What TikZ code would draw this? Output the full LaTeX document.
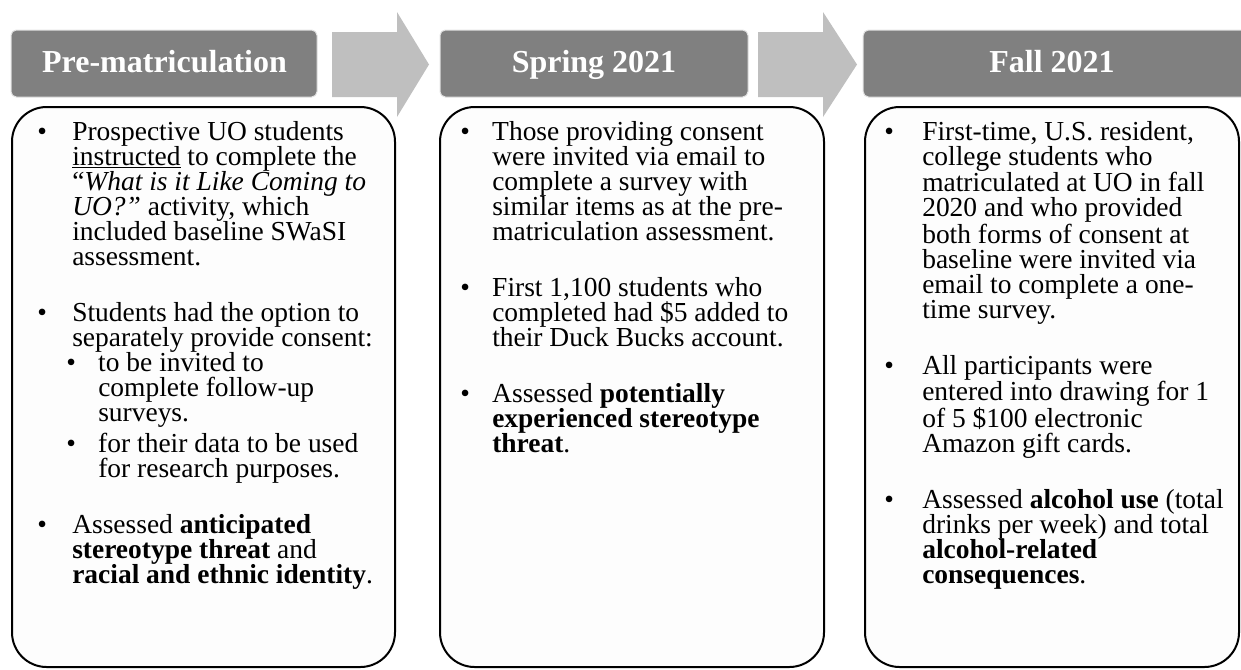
\documentclass[tikz,border=0pt]{standalone}
\usepackage{fontspec}
\setmainfont{Liberation Serif}
\definecolor{hdrgray}{HTML}{808080}
\definecolor{hdrline}{HTML}{E2E2E2}
\definecolor{arrgray}{HTML}{BFBFBF}
\definecolor{bodyfill}{HTML}{FDFDFD}
\newcommand{\bp}[2]{\par\noindent\hangindent=#1\hangafter=1\makebox[#1][l]{\textbullet}#2\par}
\newcommand{\sbp}[3]{\par\noindent\hangindent=\dimexpr#1+#2\relax\hangafter=1\hspace*{#1}\makebox[#2][l]{\textbullet}#3\par}
\newcommand{\pgap}{\vspace{23.25pt}}
\tikzset{
  hdr/.style={fill=hdrgray, draw=hdrline, line width=0.75pt, rounded corners=4pt,
    inner sep=0pt, minimum height=50.25pt},
  hdrtext/.style={text=white, font=\fontsize{24}{28}\selectfont\bfseries, inner sep=0pt, anchor=base},
  arr/.style={fill=arrgray, draw=none},
  body/.style={fill=bodyfill, draw=black, line width=1.5pt, rounded corners=26pt},
  bodytext/.style={inner sep=0pt, anchor=base west, font=\fontsize{20.6}{18.75}\selectfont}
}
\begin{document}
\begin{tikzpicture}[x=0.75pt, y=-0.75pt]
\useasboundingbox (0,0) rectangle (1241,669);
\clip (0,0) rectangle (1241,669);

% arrows
\fill[arr] (332,32) -- (397,32) -- (397,12) -- (429,64.5) -- (397,117) -- (397,97) -- (332,97) -- cycle;
\fill[arr] (758,32) -- (823,32) -- (823,12) -- (857,64.5) -- (823,117) -- (823,97) -- (758,97) -- cycle;

% headers
\node[hdr, minimum width=229.5pt] (h1) at (164,63.5) {};
\node[hdr, minimum width=231pt] (h2) at (594,63.5) {};
\node[hdr, minimum width=290pt] (h3) at (1056.5,63.5) {};
\node[hdrtext] (h1t) at (164.5,72) {Pre-matriculation};
\node[hdrtext] (h2t) at (594,72) {Spring 2021};
\node[hdrtext] (h3t) at (1052,72) {Fall 2021};

% body boxes
\draw[body] (12,107) rectangle (395,667);
\draw[body] (440,107) rectangle (824,667);
\draw[body] (865,107) rectangle (1239,667);

% box 1 text
\node[bodytext] (t1) at (37,140) {\begin{minipage}[t]{300pt}\setlength{\parskip}{0pt}%
\bp{26.25pt}{Prospective UO students\\ \underline{instructed} to complete the\\ “\textit{What is it Like Coming to\\ UO?”} activity, which\\ included baseline SWaSI\\ assessment.}
\pgap
\bp{26.25pt}{Students had the option to\\ separately provide consent:}
\sbp{21.75pt}{24pt}{to be invited to\\ complete follow-up\\ surveys.}
\vspace{3.75pt}
\sbp{21.75pt}{24pt}{for their data to be used\\ for research purposes.}
\pgap
\bp{26.25pt}{Assessed \textbf{anticipated\\ stereotype threat} and\\ \textbf{racial and ethnic identity}.}
\end{minipage}};

% box 2 text
\node[bodytext] (t2) at (460,140) {\begin{minipage}[t]{300pt}\setlength{\parskip}{0pt}%
\bp{24pt}{Those providing consent\\ were invited via email to\\ complete a survey with\\ similar items as at the pre-\\ matriculation assessment.}
\pgap
\bp{24pt}{First 1,100 students who\\ completed had \$5 added to\\ their Duck Bucks account.}
\pgap
\bp{24pt}{Assessed \textbf{potentially\\ experienced stereotype\\ threat}.}
\end{minipage}};

% box 3 text
\node[bodytext] (t3) at (884,140) {\begin{minipage}[t]{300pt}\setlength{\parskip}{0pt}%
\bp{28.5pt}{First-time, U.S. resident,\\ college students who\\ matriculated at UO in fall\\ 2020 and who provided\\ both forms of consent at\\ baseline were invited via\\ email to complete a one-\\ time survey.}
\pgap
\bp{28.5pt}{All participants were\\ entered into drawing for 1\\ of 5 \$100 electronic\\ Amazon gift cards.}
\pgap
\bp{28.5pt}{Assessed \textbf{alcohol use} (total\\ drinks per week) and total\\ \textbf{alcohol-related\\ consequences}.}
\end{minipage}};
\end{tikzpicture}
\end{document}
